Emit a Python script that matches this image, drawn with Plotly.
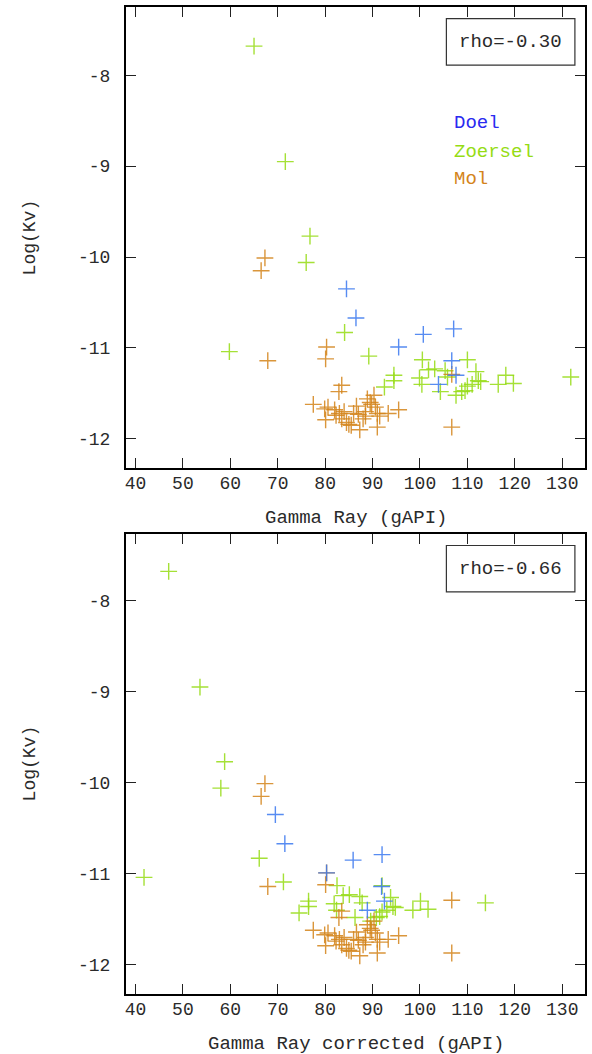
import plotly.graph_objects as go

# ---------------- data ----------------
# Top panel: Gamma Ray (gAPI) vs Log(Kv)
doel_gr = [84.5, 86.5, 95.5, 100.7, 107.1, 106.7, 107.6, 103.9]
doel_kv = [-10.35, -10.67, -10.99, -10.85, -10.79, -11.14, -11.30, -11.40]

zoersel_gr = [65.0, 71.6, 76.8, 76.0, 59.8, 84.1, 89.2, 92.5, 94.5, 94.5,
              100.5, 99.9, 100.4, 101.8, 103.1, 104.3, 105.3, 105.8, 110.0, 111.8,
              109.5, 110.0, 107.6, 112.3, 111.0, 116.5, 118.1, 119.7, 131.8, 108.8,
              112.8]
zoersel_kv = [-7.68, -8.95, -9.77, -10.06, -11.04, -10.83, -11.09, -11.43, -11.30, -11.36,
              -11.13, -11.33, -11.40, -11.24, -11.23, -11.48, -11.25, -11.32, -11.13, -11.26,
              -11.47, -11.42, -11.52, -11.36, -11.40, -11.40, -11.30, -11.39, -11.32, -11.48,
              -11.37]

mol_gr = [66.5, 67.3, 67.9, 80.3, 80.1, 83.5, 82.9, 106.7, 106.7,
          77.5, 79.9, 80.6, 80.1, 82.0, 83.0, 84.0, 83.5, 84.5, 85.0,
          86.0, 86.6, 87.0, 87.3, 88.0, 88.5, 88.9, 89.5, 90.3, 90.6,
          91.0, 91.0, 91.5, 93.3, 95.5, 88.5, 85.5, 89.8, 82.3]
mol_kv = [-10.15, -10.01, -11.14, -10.99, -11.12, -11.41, -11.48, -11.29, -11.87,
          -11.62, -11.67, -11.65, -11.79, -11.68, -11.72, -11.70, -11.78, -11.82, -11.84,
          -11.72, -11.64, -11.73, -11.90, -11.78, -11.70, -11.56, -11.60, -11.52, -11.65,
          -11.72, -11.87, -11.75, -11.72, -11.68, -11.75, -11.85, -11.62, -11.74]

# Bottom panel: Gamma Ray corrected (gAPI) vs Log(Kv)
doel_grc = [69.5, 71.5, 80.3, 85.9, 92.0, 91.9, 92.5, 88.9]
zoersel_grc = [47.0, 53.6, 58.8, 58.0, 41.8, 66.1, 71.2, 74.5, 76.5, 76.5,
               82.5, 81.9, 82.4, 83.8, 85.1, 86.3, 87.3, 87.8, 92.0, 93.8,
               91.5, 92.0, 89.6, 94.3, 93.0, 98.5, 100.1, 101.7, 113.8, 90.8,
               94.8]
mol_grc = list(mol_gr)

groups = ["Doel", "Zoersel", "Mol"]
rho_labels = ["rho=-0.30", "rho=-0.66"]
x_titles = ["Gamma Ray (gAPI)", "Gamma Ray corrected (gAPI)"]
y_title = "Log(Kv)"
x_ticks = [40, 50, 60, 70, 80, 90, 100, 110, 120, 130]
y_ticks = [-8, -9, -10, -11, -12]
y_ticktext = ["-8", "-9", "-10", "-11", "-12"]

# ---------------- style ----------------
FONT = "Liberation Mono, Courier New, monospace"
marker_colors = {"Doel": "#3a78f0", "Zoersel": "#96dc14", "Mol": "#d4841a"}
text_colors = {"Doel": "#2a2af0", "Zoersel": "#96dc14", "Mol": "#d4841a"}
TXT = "#2a2a2a"

W, H = 592, 1054
ML, MR, MT, MB = 126, 5, 7, 60

fig = go.Figure()

def add_points(x, y, name, xa, ya):
    fig.add_trace(go.Scatter(
        x=x, y=y, mode="markers", name=name, showlegend=False,
        xaxis=xa, yaxis=ya,
        marker=dict(symbol="cross-thin", size=12, opacity=0.85,
                    line=dict(width=1.4, color=marker_colors[name])),
    ))

add_points(zoersel_gr, zoersel_kv, "Zoersel", "x", "y")
add_points(mol_gr, mol_kv, "Mol", "x", "y")
add_points(doel_gr, doel_kv, "Doel", "x", "y")
add_points(zoersel_grc, zoersel_kv, "Zoersel", "x2", "y2")
add_points(mol_grc, mol_kv, "Mol", "x2", "y2")
add_points(doel_grc, doel_kv, "Doel", "x2", "y2")

axis_common = dict(
    showgrid=False, zeroline=False, showline=True, linewidth=2, linecolor="black",
    mirror="allticks", ticks="inside", ticklen=10, tickwidth=1.3, tickcolor="#222",
    tickfont=dict(family=FONT, size=18, color=TXT),
)

plot_h = H - MT - MB
top_dom = [(994 - 468) / plot_h, 1.0]
bot_dom = [0.0, (994 - 534) / plot_h]

xax = dict(axis_common, range=[38, 134.8], tickvals=x_ticks, domain=[0, 1],
           ticklabelstandoff=-3)
yax = dict(axis_common, tickvals=y_ticks, ticktext=y_ticktext, ticklabelstandoff=10)

fig.update_layout(
    width=W, height=H,
    margin=dict(l=ML, r=MR, t=MT, b=MB),
    paper_bgcolor="white", plot_bgcolor="white",
    font=dict(family=FONT, size=18, color=TXT),
    xaxis=dict(xax, anchor="y"),
    yaxis=dict(yax, range=[-12.32, -7.25], anchor="x", domain=top_dom),
    xaxis2=dict(xax, anchor="y2"),
    yaxis2=dict(yax, range=[-12.32, -7.27], anchor="x2", domain=bot_dom),
)

annotations = []
shapes = []
# axis titles
for i, (xt, ybot, ymid) in enumerate([(x_titles[0], 468, 237), (x_titles[1], 994, 763)]):
    annotations.append(dict(text=xt, xref="paper", yref="paper", x=0.5,
                            y=(994 - (ybot + 50)) / plot_h, xanchor="center", yanchor="middle",
                            showarrow=False, font=dict(family=FONT, size=19, color=TXT)))
    annotations.append(dict(text=y_title, xref="paper", yref="paper",
                            x=(30 - ML) / (W - ML - MR), y=(994 - ymid) / plot_h,
                            xanchor="center", yanchor="middle", textangle=-90,
                            showarrow=False, font=dict(family=FONT, size=18, color=TXT)))

# rho boxes
for i, (xr, yr) in enumerate([("x domain", "y domain"), ("x2 domain", "y2 domain")]):
    shapes.append(dict(type="rect", xref=xr, yref=yr, x0=0.698, x1=0.978,
                       y0=0.874, y1=0.975, line=dict(color="#333", width=1.2),
                       fillcolor="white", layer="above"))
    annotations.append(dict(text=rho_labels[i], xref=xr, yref=yr, x=0.838, y=0.9245,
                            xanchor="center", yanchor="middle", showarrow=False,
                            font=dict(family=FONT, size=19, color=TXT)))

# group labels (top panel)
for g, py in zip(groups, [123, 152, 179]):
    annotations.append(dict(text=g, xref="x domain", yref="y domain",
                            x=(453 - ML) / 461, y=(468 - py) / 461,
                            xanchor="left", yanchor="middle", showarrow=False,
                            font=dict(family=FONT, size=19, color=text_colors[g])))

fig.update_layout(annotations=annotations, shapes=shapes)
fig.write_html("out.html")
